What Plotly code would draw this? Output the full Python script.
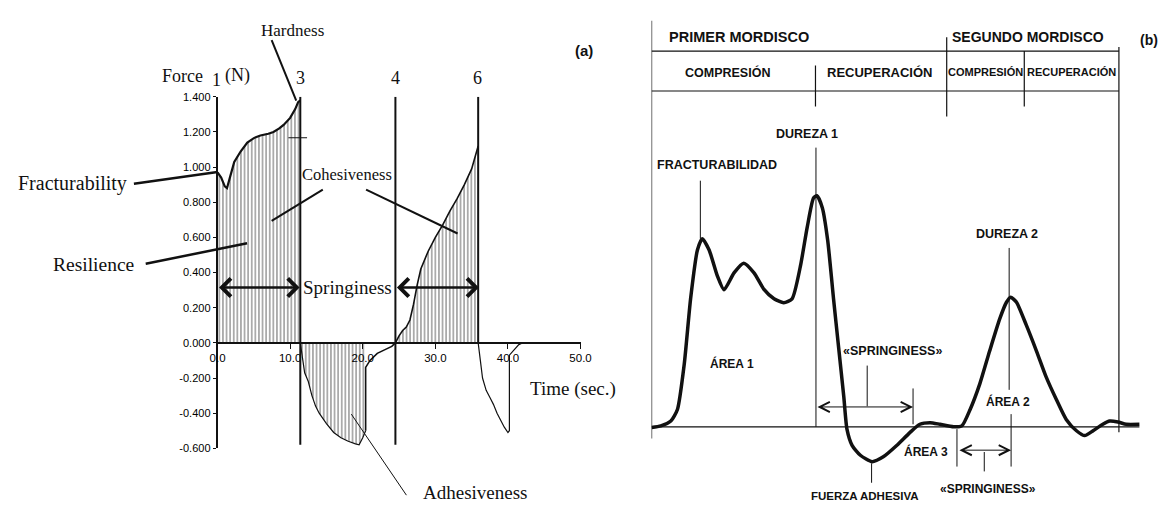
import plotly.graph_objects as go

W, H = 1169, 508

# ---------------- Panel (a): texture profile analysis (time s, force N) ----------------
comp1_t = [0, 0.5, 1.0, 1.3, 1.7, 2.3, 3.2, 4.1, 5.0, 5.9, 7.0, 7.7, 8.5, 9.1, 10.0, 10.7, 11.1, 11.4]
comp1_f = [0.97, 0.94, 0.89, 0.88, 0.94, 1.03, 1.09, 1.14, 1.165, 1.18, 1.19, 1.20, 1.22, 1.24, 1.28, 1.33, 1.37, 1.38]
adh1_t = [11.4, 11.6, 12.0, 12.5, 13.0, 13.5, 14.0, 15.0, 16.0, 17.0, 18.0, 19.0, 19.5, 20.0, 20.4]
adh1_f = [0.0, -0.05, -0.17, -0.22, -0.30, -0.36, -0.40, -0.46, -0.51, -0.54, -0.56, -0.575, -0.58, -0.54, -0.50]
rest1_t = [20.4, 20.4, 21.0, 22.0, 23.0, 24.0, 24.5]
rest1_f = [-0.50, -0.14, -0.10, -0.06, -0.04, -0.02, 0.0]
comp2_t = [24.5, 25.0, 25.5, 26.0, 26.5, 27.0, 27.5, 28.0, 29.0, 30.0, 31.0, 32.0, 33.0, 34.0, 35.0, 35.9]
comp2_f = [0.0, 0.04, 0.07, 0.09, 0.13, 0.22, 0.33, 0.42, 0.52, 0.60, 0.67, 0.75, 0.82, 0.90, 0.99, 1.12]
adh2_t = [35.9, 36.0, 36.2, 36.5, 37.0, 37.5, 38.0, 38.5, 39.0, 39.5, 40.0, 40.2, 40.2, 40.6, 41.0, 41.5, 42.0]
adh2_f = [0.0, -0.05, -0.10, -0.20, -0.27, -0.31, -0.35, -0.40, -0.44, -0.48, -0.51, -0.50, -0.07, -0.05, -0.03, -0.01, 0.0]

cursor_t = [11.4, 24.5, 35.9]
cursor_bottom = [-0.58, -0.58, 0.0]
cursor_labels = ["1", "3", "4", "6"]
spring_f = 0.315
spring_spans = [(0.0, 11.3), (24.5, 36.0)]

a_xticks = [0, 10, 20, 30, 40, 50]
a_xticktext = ["0.0", "10.0", "20.0", "30.0", "40.0", "50.0"]
a_yticks = [-0.6, -0.4, -0.2, 0.0, 0.2, 0.4, 0.6, 0.8, 1.0, 1.2, 1.4]
a_yticktext = ["-0.600", "-0.400", "-0.200", "0.000", "0.200", "0.400", "0.600",
               "0.800", "1.000", "1.200", "1.400"]

# ---------------- Panel (b): schematic TPA curve (time %, force % of hardness 1) ----------------
tpa_t = [0, 1.9, 3.95, 5.3, 6.7, 8.0, 9.4, 10.4, 11.8, 13.5, 14.85, 16.9, 18.9, 21.0, 23.0, 25.1,
         27.1, 28.8, 30.5, 31.9, 33.2, 33.9, 35.0, 36.1, 37.3, 38.35, 39.4, 40.05, 41.1, 42.8, 45.2,
         47.5, 50.3, 53.0, 55.0, 57.1, 59.1, 61.9, 63.6, 65.3, 67.3, 69.3, 71.4, 72.75, 73.6, 74.8,
         76.8, 78.9, 80.9, 83.0, 85.0, 87.1, 88.8, 90.5, 92.5, 93.9, 95.6, 97.3, 100]
tpa_f = [-0.3, 0.4, 2.5, 7.5, 27.2, 55.4, 76.5, 81.4, 76.5, 65.2, 59.3, 66.6, 70.8, 66.6, 59.6, 55.4,
         53.7, 55.4, 69.4, 86.3, 99.0, 100, 94.8, 80.7, 55.4, 34.2, 13.1, -1.0, -8.0, -12.3, -15.1,
         -13.0, -8.0, -2.4, 1.1, 1.8, 1.1, 0, 0.4, 7.5, 18.7, 32.8, 46.9, 53.9, 56.1, 53.9,
         44.1, 32.8, 21.5, 11.7, 3.2, -1.7, -3.8, -1.7, 1.1, 2.5, 2.1, 1.1, 1.1]

# pixel helpers for layout positions (paper coordinates)
def PX(x):
    return x / W

def PY(y):
    return 1 - y / H

# Panel (a) axes geometry
A_X0, A_X1 = 213, 582      # pixel of t=0 and t=50
A_Y0, A_Y1 = 453, 93       # pixel of f=-0.6 and f=1.4
A_ZERO = 345               # pixel of f=0

# Panel (b) axes geometry
B_X0 = 654.2               # pixel of t=0
B_SX = 4.959               # px per time unit
B_Y0 = 431                 # pixel of f=0
B_SY = 2.367               # px per force unit

serif = "Liberation Serif, Times New Roman, serif"
sans = "Liberation Sans, Arial, sans-serif"

pattern = dict(shape="|", size=3.6, solidity=0.4, fgcolor="#2a2a2a", bgcolor="white")

fig = go.Figure()

# --- panel (a) traces
fig.add_trace(go.Scatter(x=comp1_t, y=comp1_f, mode="lines", line=dict(color="#111", width=2.2),
                         fill="tozeroy", fillpattern=pattern, xaxis="x", yaxis="y", showlegend=False))
fig.add_trace(go.Scatter(x=adh1_t, y=adh1_f, mode="lines", line=dict(color="#111", width=1.2),
                         fill="tozeroy", fillpattern=pattern, xaxis="x", yaxis="y", showlegend=False))
fig.add_trace(go.Scatter(x=rest1_t, y=rest1_f, mode="lines", line=dict(color="#111", width=1.6),
                         xaxis="x", yaxis="y", showlegend=False))
fig.add_trace(go.Scatter(x=comp2_t, y=comp2_f, mode="lines", line=dict(color="#111", width=1.6),
                         fill="tozeroy", fillpattern=pattern, xaxis="x", yaxis="y", showlegend=False))
fig.add_trace(go.Scatter(x=adh2_t, y=adh2_f, mode="lines", line=dict(color="#111", width=1.2),
                         xaxis="x", yaxis="y", showlegend=False))

# --- panel (b) trace
fig.add_trace(go.Scatter(x=tpa_t, y=tpa_f, mode="lines", line=dict(color="#111", width=3.5, shape="spline", smoothing=0.6),
                         xaxis="x2", yaxis="y2", showlegend=False))

shapes = []
annotations = []

def seg(x0, y0, x1, y1, ref, width=1.2, color="#111"):
    xr, yr = ("paper", "paper") if ref == "paper" else ref
    shapes.append(dict(type="line", xref=xr, yref=yr, x0=x0, y0=y0, x1=x1, y1=y1,
                       line=dict(color=color, width=width)))

def txt(x, y, s, ref, size, family, bold=False, xanchor="center", color="#111"):
    xr, yr = ("paper", "paper") if ref == "paper" else ref
    annotations.append(dict(x=x, y=y, xref=xr, yref=yr, text=("<b>%s</b>" % s) if bold else s,
                            showarrow=False, xanchor=xanchor, yanchor="middle",
                            font=dict(size=size, family=family, color=color)))

A = ("x", "y")
B = ("x2", "y2")

# cursor lines 3, 4, 6
for t, yb in zip(cursor_t, cursor_bottom):
    seg(t, 1.4, t, yb, A, width=2)
# small cross mark on cursor 3
seg(9.76, 1.167, 12.33, 1.167, A, width=1.2)

# cursor numbers
txt(PX(212), PY(76), cursor_labels[0], "paper", 18, serif)
txt(PX(297), PY(74), cursor_labels[1], "paper", 18, serif)
txt(PX(394), PY(74), cursor_labels[2], "paper", 18, serif)
txt(PX(477), PY(74), cursor_labels[3], "paper", 18, serif)
txt(PX(177), PY(72), "Force", "paper", 18, serif)
txt(PX(233), PY(71), "(N)", "paper", 18, serif)

# labels with leaders (panel a)
txt(PX(289), PY(25), "Hardness", "paper", 17, serif)
seg(PX(268), PY(35), PX(293), PY(97), "paper", width=2)
txt(PX(66), PY(182), "Fracturability", "paper", 20, serif)
seg(PX(128), PY(182), PX(213), PY(170), "paper", width=2.5)
txt(PX(345), PY(173), "Cohesiveness", "paper", 16.5, serif)
seg(PX(320), PY(188), PX(268), PY(220), "paper", width=2)
seg(PX(364), PY(188), PX(457), PY(233), "paper", width=2)
txt(PX(87), PY(265), "Resilience", "paper", 19.5, serif)
seg(PX(140), PY(264), PX(243), PY(243), "paper", width=2.5)
txt(11.3 + (24.5 - 11.3) / 2, spring_f, "Springiness", A, 19, serif)
txt(PX(529), PY(392), "Time (sec.)", "paper", 19, serif, xanchor="left")
txt(PX(475), PY(498), "Adhesiveness", "paper", 19, serif)
seg(PX(405), PY(501), PX(349), PY(418), "paper", width=1)
txt(PX(586), PY(46), "(a)", "paper", 15, sans, bold=True)

for t0, t1 in spring_spans:
    annotations.append(dict(x=t1, y=spring_f, ax=t0, ay=spring_f, xref="x", yref="y", axref="x", ayref="y",
                            text="", showarrow=True, arrowhead=4, startarrowhead=4, arrowside="end+start",
                            arrowsize=1.4, arrowwidth=2.5, arrowcolor="#111"))

# --- panel (b) frame and dividers
T_RIGHT = 95.8
seg(0, 175.7, 0, -5.1, B, width=1.2)
seg(T_RIGHT, 164.3, T_RIGHT, -2.4, B, width=1.2)
seg(0, 162.6, T_RIGHT, 162.6, B, width=1.2)
seg(0, 145.3, T_RIGHT, 145.3, B, width=1.2)
seg(60.5, 168.6, 60.5, 134.3, B, width=1.2)
seg(33.6, 156.3, 33.6, 138.6, B, width=1.2)
seg(76.4, 162.6, 76.4, 138.6, B, width=1.2)
seg(0, 0, 100, 0, B, width=1.2)

# leaders
seg(33.7, 120.8, 33.7, 0, B, width=1)
seg(10.0, 106.5, 10.0, 81.4, B, width=1)
seg(73.3, 77.4, 73.3, 16.0, B, width=1)
seg(73.7, 5.5, 73.7, -17.2, B, width=1)
seg(53.6, 16.6, 53.6, 1.1, B, width=1)
seg(44.2, 26.5, 44.2, 8.9, B, width=1)
seg(62.6, -1.0, 62.6, -17.2, B, width=1)
seg(68.2, -10.9, 68.2, -19.3, B, width=1)
seg(45.1, -15.8, 45.1, -24.2, B, width=1)

for t0, t1, fv in [(33.7, 53.6, 8.6), (62.8, 73.7, -10.1)]:
    annotations.append(dict(x=t1, y=fv, ax=t0, ay=fv, xref="x2", yref="y2", axref="x2", ayref="y2",
                            text="", showarrow=True, arrowhead=5, startarrowhead=5, arrowside="end+start",
                            arrowsize=2, arrowwidth=1, arrowcolor="#111"))

txt(17.9, 168.6, "PRIMER MORDISCO", B, 14.5, sans, bold=True)
txt(77.2, 168.6, "SEGUNDO MORDISCO", B, 14, sans, bold=True)
txt(102.0, 167.3, "(b)", B, 14, sans, bold=True)
txt(15.5, 153.4, "COMPRESIÓN", B, 12.5, sans, bold=True)
txt(46.7, 153.4, "RECUPERACIÓN", B, 13, sans, bold=True)
txt(68.5, 153.4, "COMPRESIÓN", B, 11, sans, bold=True)
txt(86.1, 153.4, "RECUPERACIÓN", B, 11, sans, bold=True)
txt(13.4, 113.1, "FRACTURABILIDAD", B, 12.5, sans, bold=True)
txt(31.9, 126.9, "DUREZA 1", B, 12.5, sans, bold=True)
txt(72.8, 83.5, "DUREZA 2", B, 12.5, sans, bold=True)
txt(16.4, 27.2, "ÁREA 1", B, 12, sans, bold=True)
txt(49.3, 32.8, "«SPRINGINESS»", B, 12.5, sans, bold=True)
txt(73.0, 11.0, "ÁREA 2", B, 12, sans, bold=True)
txt(56.3, -10.6, "ÁREA 3", B, 12, sans, bold=True)
txt(43.8, -29.9, "FUERZA ADHESIVA", B, 11.5, sans, bold=True)
txt(68.9, -27.0, "«SPRINGINESS»", B, 12, sans, bold=True)

fig.update_layout(
    width=W, height=H, margin=dict(l=0, r=0, t=0, b=0),
    paper_bgcolor="white", plot_bgcolor="rgba(0,0,0,0)",
    showlegend=False, shapes=shapes, annotations=annotations,
    xaxis=dict(domain=[A_X0 / W, A_X1 / W], range=[0, 50], anchor="free", position=1 - A_ZERO / H,
               showline=True, linecolor="#111", linewidth=1.6, ticks="outside", ticklen=5,
               tickcolor="#111", tickvals=a_xticks, ticktext=a_xticktext, showgrid=False, zeroline=False,
               tickfont=dict(size=11.5, family=sans, color="#000")),
    yaxis=dict(domain=[1 - A_Y0 / H, 1 - A_Y1 / H], range=[-0.6, 1.4], anchor="x",
               showline=True, linecolor="#111", linewidth=1.6, ticks="outside", ticklen=3,
               tickcolor="#111", tickvals=a_yticks, ticktext=a_yticktext, showgrid=False, zeroline=False,
               tickfont=dict(size=11, family=sans, color="#000")),
    xaxis2=dict(domain=[B_X0 / W, 1], range=[0, (W - B_X0) / B_SX], anchor="y2", visible=False),
    yaxis2=dict(domain=[0, 1], range=[-(H - B_Y0) / B_SY, B_Y0 / B_SY], anchor="x2", visible=False),
)

fig.write_html("out.html")
